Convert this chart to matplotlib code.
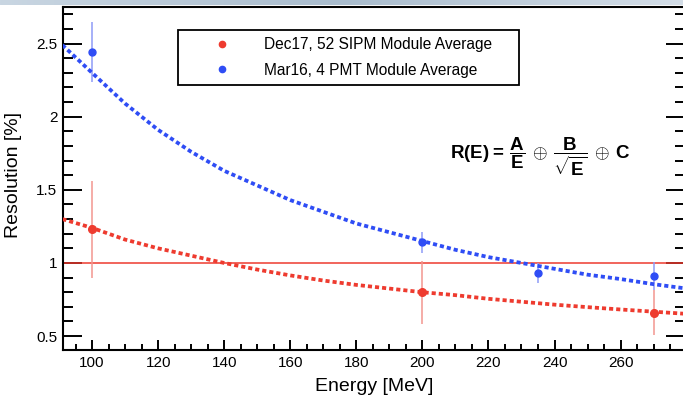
import numpy as np
import matplotlib.pyplot as plt
from matplotlib.lines import Line2D
from matplotlib.ticker import MultipleLocator

plt.rcParams['font.family'] = ['Liberation Sans', 'DejaVu Sans']
plt.rcParams['mathtext.fontset'] = 'custom'
plt.rcParams['mathtext.rm'] = 'Liberation Sans'
plt.rcParams['mathtext.bf'] = 'Liberation Sans:bold'

RED = '#ee3b2f'
RED_ERR = '#f3968f'
BLUE = '#2f4df5'
BLUE_ERR = '#8e9bf6'

# measured module averages
sipm_energy = [100, 200, 270]
sipm_res = [1.23, 0.80, 0.66]
sipm_err = [0.33, 0.215, 0.155]

pmt_energy = [100, 200, 235, 270]
pmt_res = [2.44, 1.14, 0.93, 0.91]
pmt_err = [0.205, 0.07, 0.07, 0.095]

# fitted resolution curves, sampled along the energy range
fit_energy = [91, 100, 110, 120, 130, 140, 150, 160, 170, 180,
              190, 200, 210, 220, 230, 240, 250, 260, 270, 280]
sipm_fit = [1.30, 1.24, 1.16, 1.10, 1.05, 1.00, 0.955, 0.915, 0.88, 0.85,
            0.825, 0.80, 0.78, 0.755, 0.735, 0.715, 0.698, 0.682, 0.667, 0.652]
pmt_fit = [2.49, 2.30, 2.09, 1.91, 1.76, 1.63, 1.53, 1.43, 1.35, 1.27,
           1.21, 1.15, 1.09, 1.04, 1.00, 0.96, 0.92, 0.89, 0.855, 0.825]

fig = plt.figure(figsize=(6.83, 4.01), dpi=100)

# thin slide banner along the top edge
band = fig.add_axes([0, 0.987, 1, 0.013])
band.imshow(np.linspace(0, 1, 256)[None, :], aspect='auto',
            cmap=plt.matplotlib.colors.LinearSegmentedColormap.from_list(
                'band', ['#c9d6e2', '#a9bccd', '#d3dde7']))
band.axis('off')

ax = fig.add_axes([63 / 683, 1 - 350 / 401, 622 / 683, 343 / 401])

ax.axhline(1.0, color=RED, lw=1.1, zorder=2)

ax.plot(fit_energy, sipm_fit, color=RED, lw=2.7, ls=(0, (1.1, 0.8)),
        dash_capstyle='butt', zorder=3)
ax.plot(fit_energy, pmt_fit, color=BLUE, lw=2.7, ls=(0, (1.1, 0.8)),
        dash_capstyle='butt', zorder=3)

ax.errorbar(sipm_energy, sipm_res, yerr=sipm_err, fmt='none',
            ecolor=RED_ERR, elinewidth=1.1, zorder=2)
ax.errorbar(pmt_energy, pmt_res, yerr=pmt_err, fmt='none',
            ecolor=BLUE_ERR, elinewidth=1.1, zorder=2)
ax.plot(sipm_energy, sipm_res, 'o', color=RED, ms=5.5, zorder=4)
ax.plot(pmt_energy, pmt_res, 'o', color=BLUE, ms=5, zorder=4)

ax.set_xlim(91.2, 279.5)
ax.set_ylim(0.405, 2.75)

ax.xaxis.set_major_locator(MultipleLocator(20))
ax.xaxis.set_minor_locator(MultipleLocator(5))
ax.yaxis.set_major_locator(MultipleLocator(0.5))
ax.yaxis.set_minor_locator(MultipleLocator(0.1))
ax.yaxis.set_major_formatter(plt.FuncFormatter(lambda v, p: f'{v:g}'))

ax.tick_params(axis='both', which='both', direction='in', width=1.4,
               labelsize=11)
ax.tick_params(axis='x', which='major', length=7.5, pad=4)
ax.tick_params(axis='x', which='minor', length=4)
ax.tick_params(axis='y', which='major', length=13.5, pad=4, right=True)
ax.tick_params(axis='y', which='minor', length=7, right=True)

for sp in ax.spines.values():
    sp.set_linewidth(1.5)

ax.set_xlabel('Energy [MeV]', fontsize=14, labelpad=6)
ax.set_ylabel('Resolution [%]', fontsize=14)
ax.yaxis.set_label_coords(-0.066, 0.51)

handles = [Line2D([], [], ls='none', marker='o', color=RED, ms=4.5),
           Line2D([], [], ls='none', marker='o', color=BLUE, ms=4.5)]
labels = ['Dec17, 52 SIPM Module Average', 'Mar16, 4 PMT Module Average']
leg = ax.legend(handles, labels, loc='upper left',
                bbox_to_anchor=(0.185, 0.781, 0.548, 0.152), mode='expand',
                borderaxespad=0, fontsize=11.2, frameon=True, fancybox=False,
                framealpha=1, edgecolor='black', borderpad=0.45,
                labelspacing=0.68, handlelength=4.7, handletextpad=0.37)
leg.get_frame().set_linewidth(1.3)

ax.text(0.622, 0.562,
        r'$\mathbf{R(E)=}\,\dfrac{\mathbf{A}}{\mathbf{E}}\,\oplus\,'
        r'\dfrac{\mathbf{B}}{\sqrt{\mathbf{E}}}\,\oplus\,\mathbf{C}$',
        transform=ax.transAxes, fontsize=13.5, ha='left', va='center')

fig.savefig('out.png', dpi=100)
